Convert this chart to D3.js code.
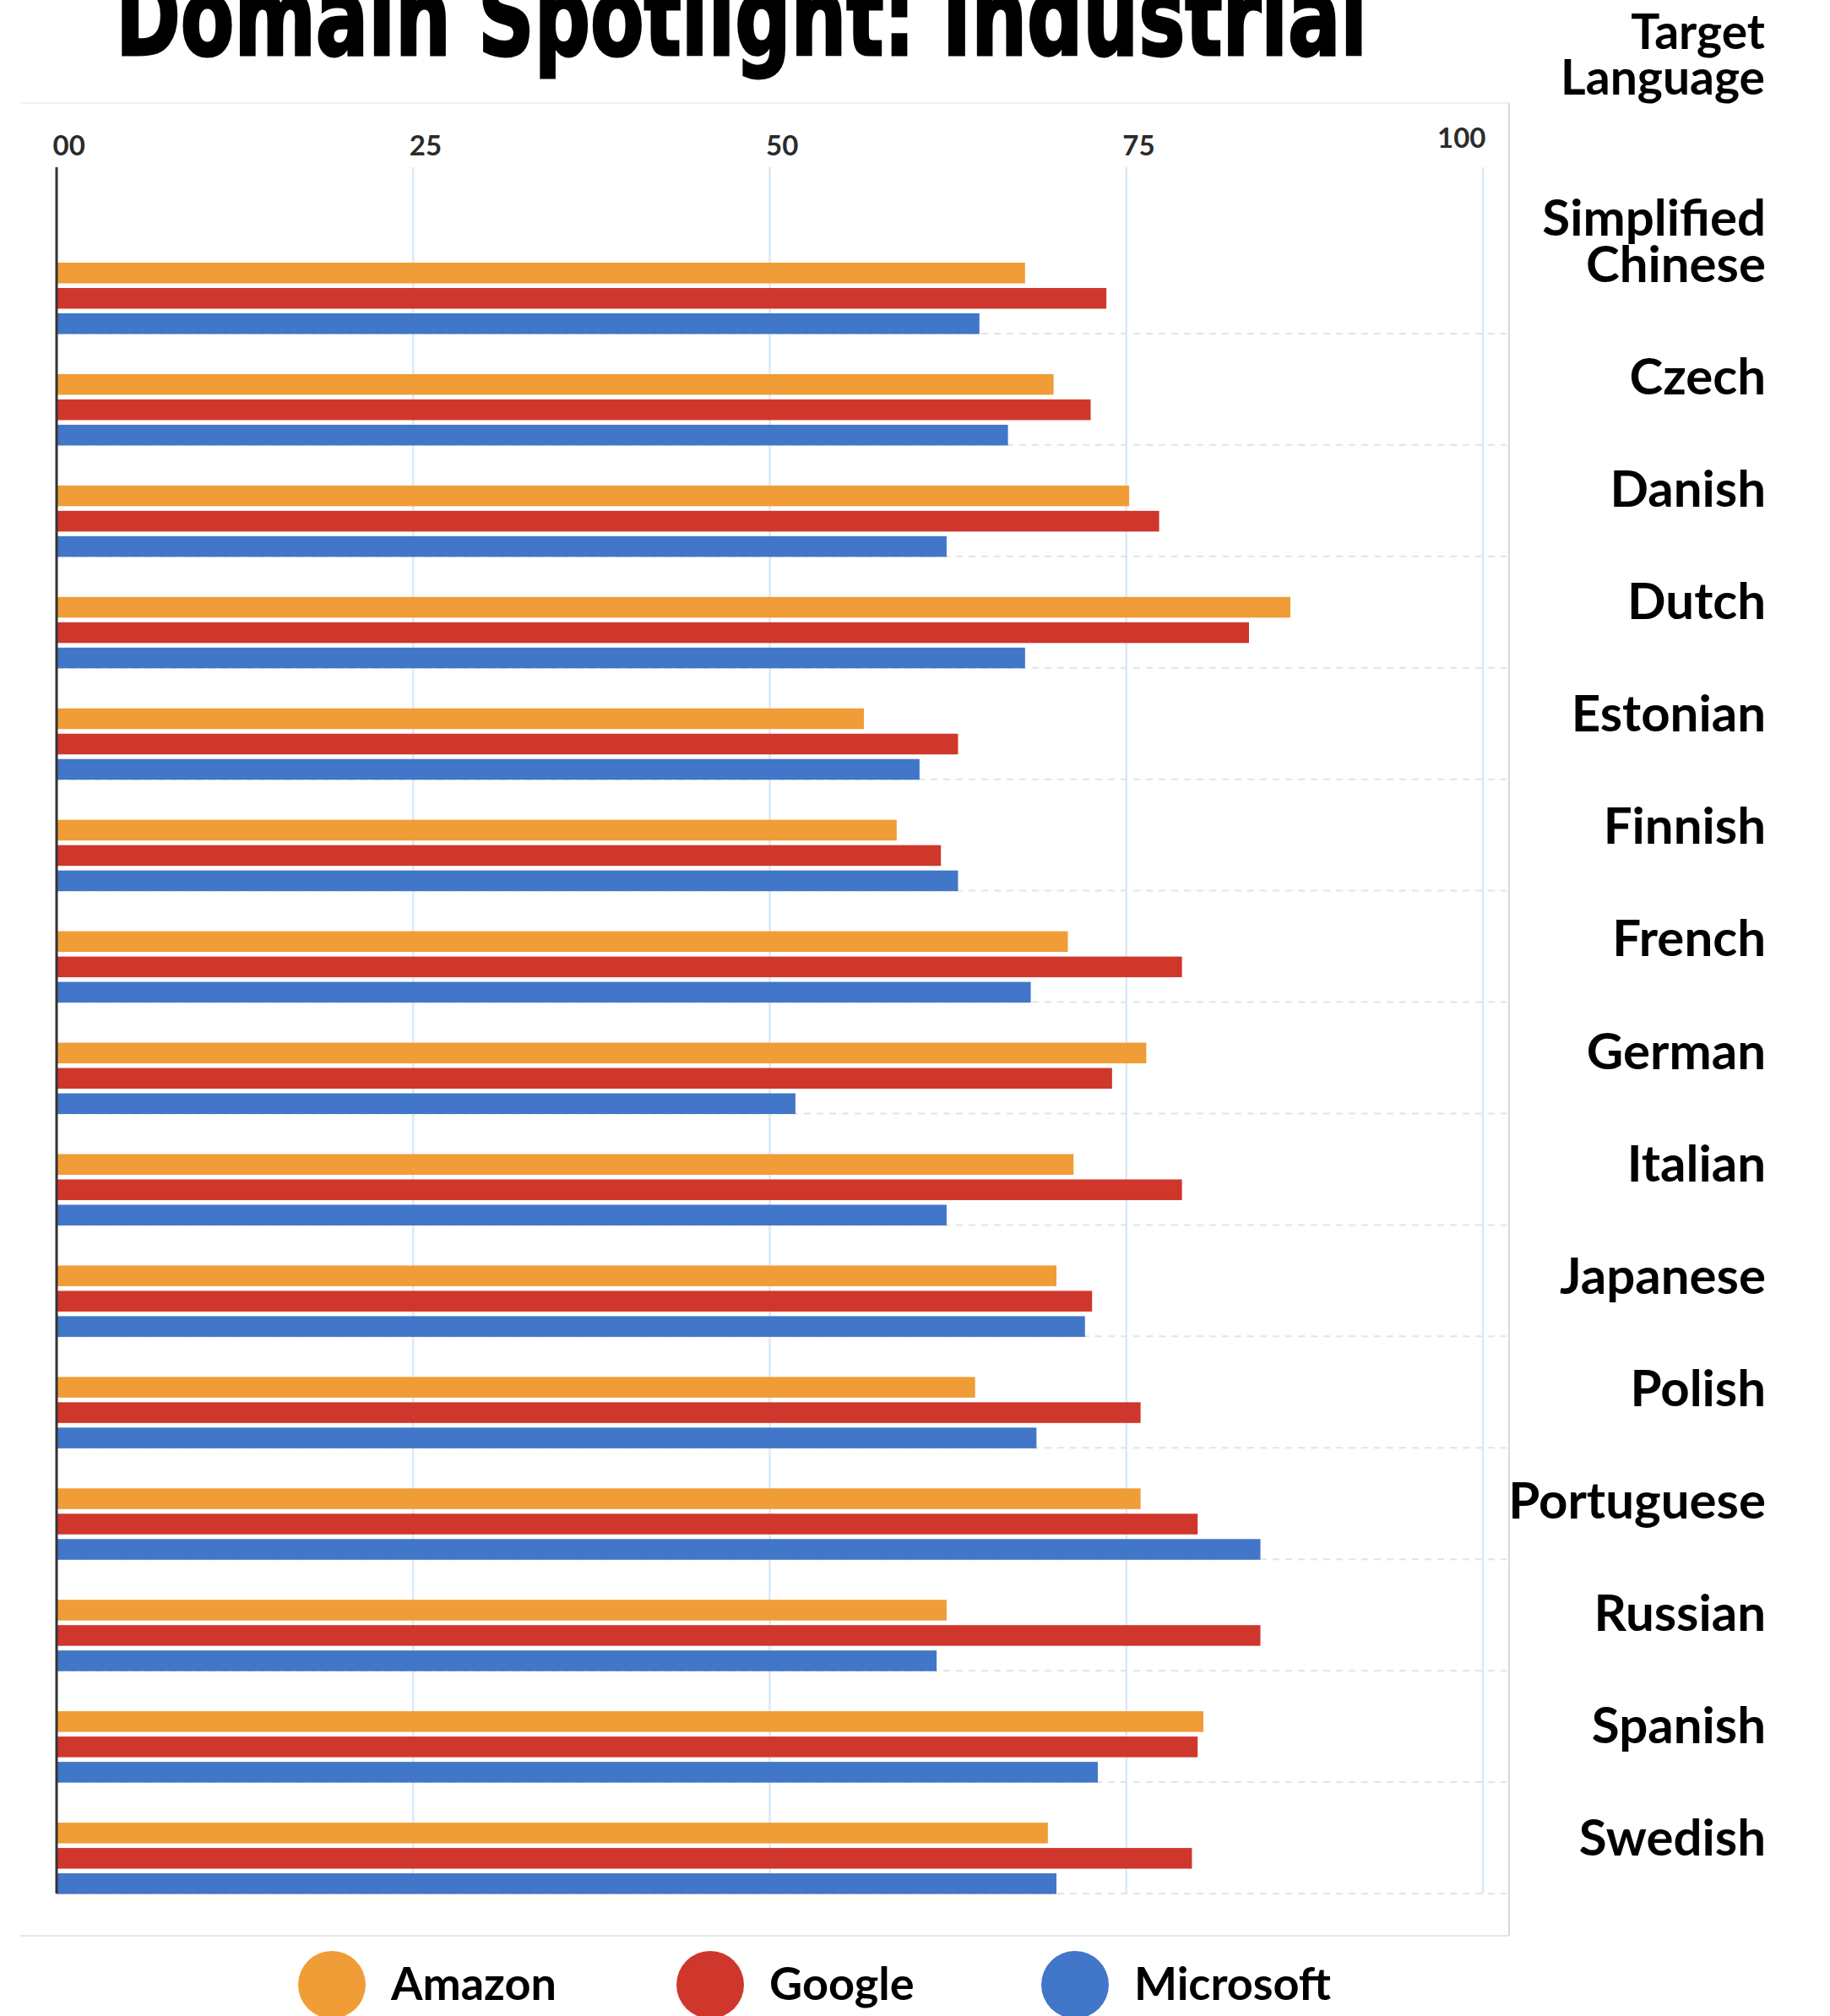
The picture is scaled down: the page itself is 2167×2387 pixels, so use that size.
<!DOCTYPE html>
<html>
<head>
<meta charset="utf-8">
<script src="https://cdn.jsdelivr.net/npm/d3@7"></script>
<style>
  body { margin: 0; background: #fff; }
  text { font-family: Lato, "Noto Sans", sans-serif; }
</style>
</head>
<body>
<div class="container"></div>
<script>
// Domain Spotlight: Industrial - scores per target language

var width = 2167;
var height = 2387;

var languages = ['Simplified Chinese', 'Czech', 'Danish', 'Dutch', 'Estonian', 'Finnish', 'French',
    'German', 'Italian', 'Japanese', 'Polish', 'Portuguese', 'Russian', 'Spanish', 'Swedish'];
var series = ['Amazon', 'Google', 'Microsoft'];
var colors = ['#f09c37', '#cf372c', '#4176c8'];

var amazon    = [67.9, 69.9, 75.2, 86.5, 56.6, 58.9, 70.9, 76.4, 71.3, 70.1, 64.4, 76.0, 62.4, 80.4, 69.5];
var google    = [73.6, 72.5, 77.3, 83.6, 63.2, 62.0, 78.9, 74.0, 78.9, 72.6, 76.0, 80.0, 84.4, 80.0, 79.6];
var microsoft = [64.7, 66.7, 62.4, 67.9, 60.5, 63.2, 68.3, 51.8, 62.4, 72.1, 68.7, 84.4, 61.7, 73.0, 70.1];

var tickValues = [0, 25, 50, 75, 100];
var tickLabels = ['00', '25', '50', '75', '100'];

var translate = function(x, y) {
    return 'translate(' + x + ',' + y + ')';
};

var draw = function() {
    var svg = d3.select('.container').append('svg')
        .attr('width', width)
        .attr('height', height);

    var values = [amazon, google, microsoft];
    var rows = languages.map(function(lang, i) {
        return { lang: lang, vals: series.map(function(s, j) { return { series: s, value: values[j][i] }; }) };
    });

    var x = d3.scaleLinear().domain([0, 100]).range([67, 1756]);
    var y = d3.scaleBand().domain(languages).range([263, 2242]);
    var ySub = d3.scaleBand().domain(series).range([48, 132.5]).paddingInner(0.183);
    var color = d3.scaleOrdinal().domain(series).range(colors);
    // labels on the right sit on their own slightly different grid
    var yLabel = d3.scalePoint().domain(languages).range([313, 2176]);

    // title, cut at the top like the source
    svg.append('text')
        .attr('transform', translate(137, 65) + ' scale(1,1.18)')
        .attr('textLength', 1482)
        .attr('lengthAdjust', 'spacingAndGlyphs')
        .style('font-family', '"Liberation Sans Narrow", "DejaVu Sans Condensed", sans-serif')
        .style('font-weight', 700)
        .style('font-size', '108px')
        .style('stroke', '#000')
        .style('stroke-width', 2.5)
        .attr('fill', '#000')
        .text('Domain Spotlight: Industrial');

    // panel frame
    var frame = svg.append('g').attr('stroke', '#e6e6e6').attr('stroke-width', 2);
    frame.append('line').attr('x1', 24).attr('x2', 1787).attr('y1', 122).attr('y2', 122).attr('stroke', '#f2f2f2');
    frame.append('line').attr('x1', 1787).attr('x2', 1787).attr('y1', 122).attr('y2', 2292).attr('stroke', '#d9d9d9');
    frame.append('line').attr('x1', 24).attr('x2', 1787).attr('y1', 2292).attr('y2', 2292);

    // grid lines
    svg.append('g').selectAll('line')
        .data(tickValues.slice(1))
        .enter().append('line')
        .attr('x1', function(d) { return x(d); })
        .attr('x2', function(d) { return x(d); })
        .attr('y1', 198)
        .attr('y2', 2242)
        .attr('stroke', '#d8eaf9')
        .attr('stroke-width', 2.5);

    // dotted separators under each group
    svg.append('g').selectAll('line')
        .data(languages)
        .enter().append('line')
        .attr('x1', x(0))
        .attr('x2', 1784)
        .attr('y1', function(d) { return y(d) + y.bandwidth(); })
        .attr('y2', function(d) { return y(d) + y.bandwidth(); })
        .attr('stroke', '#e4e4e4')
        .attr('stroke-width', 2)
        .attr('stroke-dasharray', '8 7');

    // top axis labels
    var xAxis = d3.axisTop(x)
        .tickValues(tickValues)
        .tickFormat(function(d, i) { return tickLabels[i]; })
        .tickSize(0);

    var axisG = svg.append('g')
        .attr('transform', translate(0, 172))
        .call(xAxis);
    axisG.select('.domain').remove();
    axisG.selectAll('text')
        .attr('y', 0)
        .attr('dy', '0.35em')
        .attr('dx', -5)
        .attr('text-anchor', 'start')
        .style('font-family', 'Lato, sans-serif')
        .style('font-size', '33px')
        .style('font-weight', 700)
        .attr('fill', '#2b2b2b');
    axisG.selectAll('text').filter(function(d) { return d === 100; })
        .attr('text-anchor', 'end')
        .attr('dx', 3)
        .attr('y', -9);

    // bars
    var groups = svg.append('g').selectAll('g')
        .data(rows)
        .enter().append('g')
        .attr('transform', function(d) { return translate(0, y(d.lang)); });

    groups.selectAll('rect')
        .data(function(d) { return d.vals; })
        .enter().append('rect')
        .attr('x', x(0))
        .attr('y', function(d) { return ySub(d.series); })
        .attr('width', function(d) { return x(d.value) - x(0); })
        .attr('height', ySub.bandwidth())
        .attr('fill', function(d) { return color(d.series); });

    // zero axis line
    svg.append('line')
        .attr('x1', x(0)).attr('x2', x(0))
        .attr('y1', 198).attr('y2', 2242)
        .attr('stroke', '#333')
        .attr('stroke-width', 3);

    // right hand labels
    var header = svg.append('text')
        .attr('text-anchor', 'end')
        .style('font-size', '57px')
        .style('font-weight', 700)
        .attr('fill', '#000');
    header.append('tspan').attr('x', 2090).attr('y', 58).text('Target');
    header.append('tspan').attr('x', 2090).attr('y', 112).text('Language');

    var labels = svg.append('g').selectAll('text')
        .data(languages)
        .enter().append('text')
        .attr('text-anchor', 'end')
        .style('font-size', '60px')
        .style('font-weight', 700)
        .attr('fill', '#000');

    labels.each(function(d) {
        var parts = d.split(' ');
        var base = yLabel(d) + 21;
        var t = d3.select(this);
        parts.forEach(function(p, i) {
            t.append('tspan')
                .attr('x', 2091)
                .attr('y', base - (parts.length - 1 - i) * 55)
                .text(p);
        });
    });

    // legend
    var legendX = [393, 841, 1273];
    var legend = svg.append('g').selectAll('g')
        .data(series)
        .enter().append('g')
        .attr('transform', function(d, i) { return translate(legendX[i], 2350); });

    legend.append('circle')
        .attr('r', 40)
        .attr('fill', function(d) { return color(d); });

    legend.append('text')
        .attr('x', 70)
        .attr('y', 18)
        .style('font-size', '54px')
        .style('font-weight', 700)
        .attr('fill', '#000')
        .text(function(d) { return d; });
};

window.onload = draw;
</script>
</body>
</html>
